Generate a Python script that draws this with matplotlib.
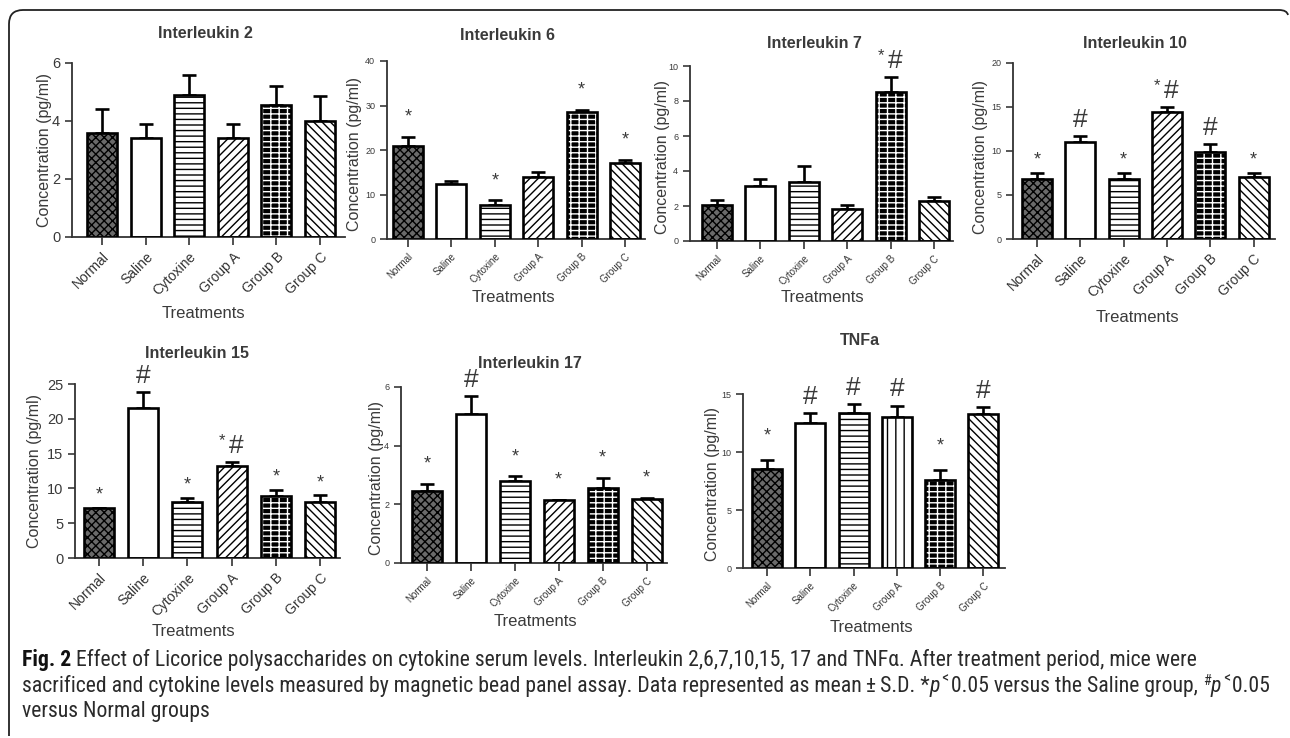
import matplotlib
matplotlib.use('Agg')
import matplotlib.pyplot as plt
from matplotlib import font_manager
from matplotlib.patches import PathPatch
from matplotlib.path import Path
import numpy as np

# ---------------- data ----------------
groups = ['Normal', 'Saline', 'Cytoxine', 'Group A', 'Group B', 'Group C']

il2_mean = [3.6, 3.4, 4.9, 3.4, 4.55, 4.0]
il2_err = [0.8, 0.5, 0.7, 0.5, 0.65, 0.85]
il2_sig = ['', '', '', '', '', '']

il6_mean = [20.8, 12.3, 7.7, 14.0, 28.5, 17.0]
il6_err = [2.2, 0.8, 1.0, 1.0, 0.6, 0.8]
il6_sig = ['*', '', '*', '', '*', '*']

il7_mean = [2.04, 3.14, 3.37, 1.81, 8.51, 2.29]
il7_err = [0.29, 0.43, 0.92, 0.23, 0.86, 0.22]
il7_sig = ['', '', '', '', '*#', '']

il10_mean = [6.85, 11.0, 6.85, 14.4, 9.85, 7.05]
il10_err = [0.65, 0.65, 0.65, 0.55, 0.95, 0.45]
il10_sig = ['*', '#', '*', '*#', '#', '*']

il15_mean = [7.2, 21.55, 8.05, 13.25, 8.85, 8.05]
il15_err = [0.0, 2.25, 0.55, 0.55, 0.95, 0.95]
il15_sig = ['*', '#', '*', '*#', '*', '*']

il17_mean = [2.44, 5.07, 2.78, 2.16, 2.57, 2.19]
il17_err = [0.27, 0.61, 0.18, 0.0, 0.34, 0.03]
il17_sig = ['*', '#', '*', '*', '*', '*']

tnf_mean = [8.52, 12.53, 13.39, 13.05, 7.6, 13.25]
tnf_err = [0.8, 0.8, 0.75, 0.95, 0.86, 0.65]
tnf_sig = ['*', '#', '#', '#', '*', '#']

titles = ['Interleukin 2', 'Interleukin 6', 'Interleukin 7', 'Interleukin 10',
          'Interleukin 15', 'Interleukin 17', 'TNFa']
ylabel = 'Concentration (pg/ml)'
xlabel = 'Treatments'

caption1 = [('Fig. 2', 'bold'), (' Effect of Licorice polysaccharides on cytokine serum levels. '
            'Interleukin 2,6,7,10,15, 17 and TNF\u03b1. After treatment period, mice were', 'normal')]
caption2 = [('sacrificed and cytokine levels measured by magnetic bead panel assay. '
             'Data represented as mean\u2009\u00b1\u2009S.D. *', 'normal'), ('p', 'italic'),
            ('\u02c20.05 versus the Saline group, ', 'normal'), ('#', 'sup'), ('p', 'italic'),
            ('\u02c20.05', 'normal')]
caption3 = [('versus Normal groups', 'normal')]

# ---------------- style ----------------
W, H = 1290, 738
TXT = '#3a3a3a'
names = {f.name for f in font_manager.fontManager.ttflist}
main_font = 'Liberation Sans' if 'Liberation Sans' in names else 'DejaVu Sans'
cap_font = next((n for n in ['Liberation Sans Narrow', 'Roboto Condensed', 'Open Sans Condensed',
                             'Liberation Sans', 'DejaVu Sans'] if n in names), 'DejaVu Sans')
plt.rcParams['font.family'] = [main_font, 'DejaVu Sans']
plt.rcParams['hatch.linewidth'] = 1.0

fig = plt.figure(figsize=(W / 100, H / 100), dpi=100)


def fx(x):
    return x / W


def fy(y):
    return 1 - y / H


def styles(special_a=False):
    return [
        dict(face='#6a6a6a', hc='black', hatch='xxxx'),
        dict(face='white', hc='white', hatch=None),
        dict(face='white', hc='black', hatch='---'),
        (dict(face='white', hc='black', hatch='||') if special_a
         else dict(face='white', hc='black', hatch='////')),
        dict(face='black', hc='white', hatch='---||'),
        dict(face='white', hc='black', hatch='\\\\\\\\'),
    ]


panels = [
    dict(mean=il2_mean, err=il2_err, sig=il2_sig, ymax=6, step=2, left=72, right=345, y0=237, yt=63,
         c0=102, sp=43.6, bx=True, by=True, title=(205, 33), ylab=(45, 150), xlab=(203, 313), soff=4),
    dict(mean=il6_mean, err=il6_err, sig=il6_sig, ymax=40, step=10, left=387, right=645, y0=239, yt=61,
         c0=408, sp=43.4, bx=False, by=False, title=(507, 36), ylab=(355, 154), xlab=(513, 298), soff=8),
    dict(mean=il7_mean, err=il7_err, sig=il7_sig, ymax=10, step=2, left=690, right=953, y0=241, yt=66,
         c0=717, sp=43.4, bx=False, by=False, title=(814, 44), ylab=(662, 157), xlab=(822, 297), soff=4),
    dict(mean=il10_mean, err=il10_err, sig=il10_sig, ymax=20, step=5, left=1013, right=1275, y0=239, yt=63,
         c0=1037, sp=43.3, bx=True, by=False, title=(1135, 43), ylab=(980, 157), xlab=(1137, 317), soff=3),
    dict(mean=il15_mean, err=il15_err, sig=il15_sig, ymax=25, step=5, left=75, right=340, y0=558, yt=384,
         c0=99, sp=44.2, bx=True, by=True, title=(197, 353), ylab=(35, 471), xlab=(193, 632), soff=3),
    dict(mean=il17_mean, err=il17_err, sig=il17_sig, ymax=6, step=2, left=401, right=667, y0=563, yt=387,
         c0=427, sp=43.9, bx=False, by=False, title=(530, 364), ylab=(376, 478), xlab=(535, 622), soff=8),
    dict(mean=tnf_mean, err=tnf_err, sig=tnf_sig, ymax=15, step=5, left=743, right=1005, y0=568, yt=394,
         c0=767, sp=43.3, bx=False, by=False, title=(860, 340), ylab=(712, 484), xlab=(871, 627), soff=11),
]

for i, p in enumerate(panels):
    ax = fig.add_axes([fx(p['left']), fy(p['y0']), (p['right'] - p['left']) / W, (p['y0'] - p['yt']) / H])
    x = np.arange(len(groups))
    ax.set_xlim((p['left'] - p['c0']) / p['sp'], (p['right'] - p['c0']) / p['sp'])
    ax.set_ylim(0, p['ymax'])
    bw = 30 / p['sp']
    st = styles(special_a=(i == 6))
    for xi, v, s in zip(x, p['mean'], st):
        ax.bar(xi, v, width=bw, color=s['face'], edgecolor=s['hc'], hatch=s['hatch'],
               linewidth=0, zorder=2)
        ax.bar(xi, v, width=bw, fill=False, edgecolor='black', linewidth=1.9, zorder=3)
    ax.errorbar(x, p['mean'], yerr=[np.zeros(len(x)), p['err']], fmt='none', ecolor='black',
                elinewidth=1.9, capsize=5, capthick=1.9, zorder=1)
    tops = np.array(p['mean']) + np.array(p['err'])
    for xi, t, s in zip(x, tops, p['sig']):
        if s == '*':
            ax.annotate('*', (xi, t), xytext=(0, p['soff']), textcoords='offset points',
                        ha='center', va='bottom', fontsize=13, color=TXT, annotation_clip=False)
        elif s == '#':
            ax.annotate('#', (xi, t), xytext=(0, 3), textcoords='offset points',
                        ha='center', va='bottom', fontsize=19, color=TXT, annotation_clip=False)
        elif s == '*#':
            ax.annotate('#', (xi, t), xytext=(3, 3), textcoords='offset points',
                        ha='center', va='bottom', fontsize=19, color=TXT, annotation_clip=False)
            ax.annotate('*', (xi, t), xytext=(-7, 10), textcoords='offset points',
                        ha='center', va='bottom', fontsize=12, color=TXT, annotation_clip=False)
    for side in ['top', 'right']:
        ax.spines[side].set_visible(False)
    for side in ['left', 'bottom']:
        ax.spines[side].set_linewidth(1.3)
        ax.spines[side].set_color('#333333')
    ax.set_yticks(np.arange(0, p['ymax'] + 0.001, p['step']))
    ax.set_xticks(x)
    ax.set_xticklabels(groups, rotation=45, ha='right', rotation_mode='anchor',
                       fontsize=10 if p['bx'] else 7, color=TXT)
    ax.tick_params(axis='y', labelsize=10.5 if p['by'] else 6.5, colors=TXT, direction='out',
                   length=5, width=1.2)
    ax.tick_params(axis='x', direction='out', length=6, width=1.2, colors='#333333', pad=3)
    ax.patch.set_alpha(0)
    fig.text(fx(p['title'][0]), fy(p['title'][1]), titles[i], ha='center', va='center',
             fontsize=11.5, fontweight='bold', color=TXT)
    fig.text(fx(p['ylab'][0]), fy(p['ylab'][1]), ylabel, ha='center', va='center', rotation=90,
             fontsize=11.5, color=TXT)
    fig.text(fx(p['xlab'][0]), fy(p['xlab'][1]), xlabel, ha='center', va='center',
             fontsize=12, color=TXT)

# ---------------- frame ----------------
verts = [(9, 736), (9, 24), (9, 10), (23, 10), (1279, 10), (1287, 10), (1288, 15)]
codes = [Path.MOVETO, Path.LINETO, Path.CURVE3, Path.CURVE3, Path.LINETO, Path.CURVE3, Path.CURVE3]
frame = PathPatch(Path([(fx(a), fy(b)) for a, b in verts], codes), fill=False, edgecolor='#222222',
                  linewidth=1.3, transform=fig.transFigure)
fig.add_artist(frame)

# ---------------- caption ----------------
renderer = fig.canvas.get_renderer()


def piece_kw(kind, size):
    kw = dict(fontsize=size, family=[cap_font, 'DejaVu Sans'], color='#2a2a2a')
    if kind == 'bold':
        kw['fontweight'] = 'bold'
        kw['color'] = '#111111'
    elif kind == 'italic':
        kw['fontstyle'] = 'italic'
    elif kind == 'sup':
        kw['fontsize'] = size * 0.65
    return kw


def measure(s, kw):
    t = fig.text(0, 0, s.replace(' ', '\u00a0'), **kw)
    w = t.get_window_extent(renderer).width
    t.remove()
    return w


def line_width(pieces, size):
    tot = 0
    for s, k in pieces:
        kw = piece_kw(k, size)
        tot += measure(s, kw)
    return tot


ref = line_width(caption2, 10)
csize = 10 * (1262 - 22) / ref


def draw_line(pieces, x, y, size):
    for s, k in pieces:
        kw = piece_kw(k, size)
        yy = y - (size * 0.45 if k == 'sup' else 0)
        fig.text(fx(x), fy(yy), s.replace(' ', '\u00a0'), ha='left', va='baseline', **kw)
        x += measure(s, kw)


draw_line(caption1, 22, 666, csize)
draw_line(caption2, 22, 692, csize)
draw_line(caption3, 22, 717, csize)

fig.savefig('out.png', dpi=100)
